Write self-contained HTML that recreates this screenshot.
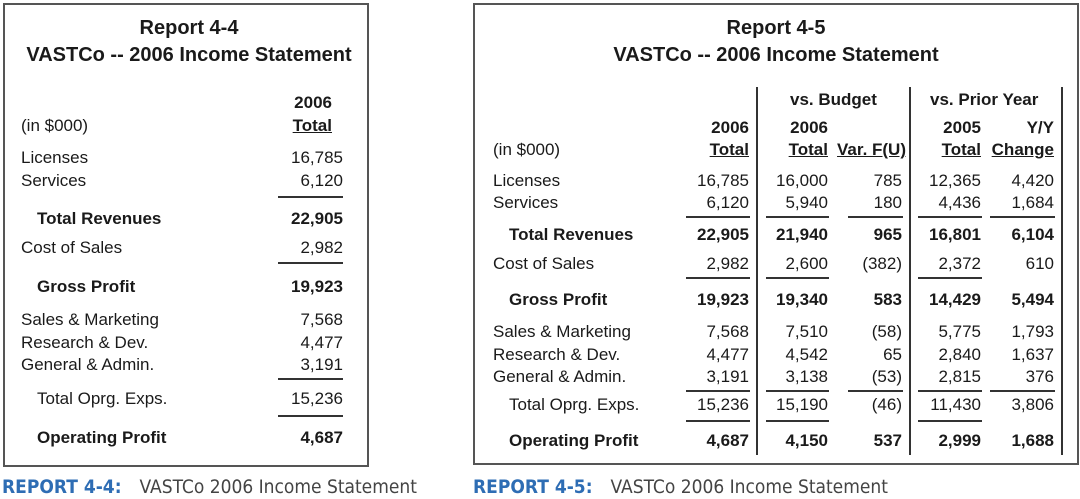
<!DOCTYPE html>
<html><head><meta charset="utf-8"><style>
body{margin:0;width:1080px;height:495px;background:#fff;position:relative;overflow:hidden;font-family:"Liberation Sans",Arial,sans-serif;color:#1a1a1a}
.a{position:absolute;white-space:nowrap;line-height:20px;font-size:17px;font-family:"Liberation Sans",Arial,sans-serif}
.b{font-weight:bold}
.r{text-align:right}
.ln{position:absolute;height:2px;background:#333}
.vl{position:absolute;width:2px;background:#333}
.box{position:absolute;border:2px solid #555;box-sizing:border-box}
.t{position:absolute;font-weight:bold;font-size:20px;text-align:center;line-height:24px;font-family:"Liberation Sans",Arial,sans-serif}
.cap{position:absolute;top:475px;font-size:19px;line-height:24px;font-family:"DejaVu Sans Condensed","Liberation Sans",sans-serif;color:#444}
.cap span{color:#2e6db4;font-weight:bold;margin-right:18px}
</style></head><body>
<div class="box" style="left:3px;top:3px;width:366px;height:464px"></div>
<div class="box" style="left:473px;top:3px;width:606px;height:462px"></div>
<div class="t" style="left:3px;width:372px;top:16px">Report 4-4<br><span style="line-height:30px">VASTCo -- 2006 Income Statement</span></div>
<div class="t" style="left:473px;width:606px;top:16px">Report 4-5<br><span style="line-height:30px">VASTCo -- 2006 Income Statement</span></div>
<div class="cap" style="left:2px"><span>REPORT 4-4:</span>VASTCo 2006 Income Statement</div>
<div class="cap" style="left:473px"><span>REPORT 4-5:</span>VASTCo 2006 Income Statement</div>
<script>
const labels=["Licenses","Services","Total Revenues","Cost of Sales","Gross Profit","Sales & Marketing","Research & Dev.","General & Admin.","Total Oprg. Exps.","Operating Profit"];
const boldRows=[false,false,true,false,true,false,false,false,false,true];
const indentRows=[false,false,true,false,true,false,false,false,true,true];
const actual2006=["16,785","6,120","22,905","2,982","19,923","7,568","4,477","3,191","15,236","4,687"];
const budget2006=["16,000","5,940","21,940","2,600","19,340","7,510","4,542","3,138","15,190","4,150"];
const varBudget=["785","180","965","(382)","583","(58)","65","(53)","(46)","537"];
const prior2005=["12,365","4,436","16,801","2,372","14,429","5,775","2,840","2,815","11,430","2,999"];
const yyChange=["4,420","1,684","6,104","610","5,494","1,793","1,637","376","3,806","1,688"];
const B=document.body;
function txt(x,y,s,bold,right,name){const d=document.createElement('div');d.className='a'+(bold?' b':'')+(right?' r':'');
if(right){d.style.left=(x-160)+'px';d.style.width='160px';}else d.style.left=x+'px';
d.style.top=(y-10)+'px';d.textContent=s;


B.appendChild(d);return d;}
function hl(x1,x2,y,name){const d=document.createElement('div');d.className='ln';d.style.left=x1+'px';d.style.width=(x2-x1)+'px';d.style.top=y+'px';


B.appendChild(d);}
function vl(x,y1,y2,name){const d=document.createElement('div');d.className='vl';d.style.left=x+'px';d.style.top=y1+'px';d.style.height=(y2-y1)+'px';


B.appendChild(d);}
// left table
const LY=[158,181,219,248,287,320,343,365,399,438];
txt(21,126,"(in $000)",false,false,'units-label');
txt(332,103,"2006",true,true,'col-header-year');
const th=txt(332,126,"",true,true,'col-header-total');th.innerHTML='<u>Total</u>';
for(let i=0;i<labels.length;i++){
 txt(indentRows[i]?37:21,LY[i],labels[i],boldRows[i],false,'row-label');
 txt(343,LY[i],actual2006[i],boldRows[i],true,'value-2006');
}
[196,262,378,415].forEach(y=>hl(278,343,y,'underline'));
// right table
const RY=[181,203,235,264,300,332,355,377,405,441];
const cols=[actual2006,budget2006,varBudget,prior2005,yyChange];
const colR=[749,828,902,981,1054];
const colL=[686,766,848,918,990];
txt(493,150,"(in $000)",false,false,'units-label-2');
const hdrTop=["2006","2006","","2005","Y/Y"];
const hdrBot=["Total","Total","Var. F(U)","Total","Change"];
for(let c=0;c<5;c++){
 if(hdrTop[c])txt(colR[c],128,hdrTop[c],true,true,'col-header-top');
 const h=txt(colR[c]+(c==2?4:0),150,'',true,true,'col-header-bottom');h.innerHTML='<u>'+hdrBot[c]+'</u>';
}
txt(790,100,"vs. Budget",true,false,'group-header-budget');
txt(930,100,"vs. Prior Year",true,false,'group-header-prior-year');
for(let i=0;i<labels.length;i++){
 txt(indentRows[i]?509:493,RY[i],labels[i],boldRows[i],false,'row-label');
 for(let c=0;c<5;c++) txt(colR[c],RY[i],cols[c][i],boldRows[i],true,'value-col-'+c);
}
const allC=[0,1,2,3,4],partC=[0,1,3];
[[216,allC],[277,partC],[390,allC],[420,partC]].forEach(([y,cs])=>cs.forEach(c=>hl(colL[c],colR[c]+1,y,'underline')));
vl(756,87,455,'divider-budget');vl(909,87,455,'divider-prior-year');vl(1061,87,455,'divider-right');
</script>
</body></html>
